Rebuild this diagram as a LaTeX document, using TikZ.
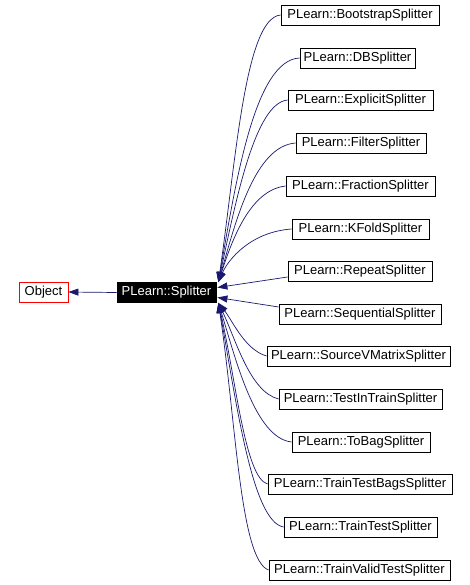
\documentclass[tikz,border=0pt]{standalone}
\usepackage{fontspec}
\setmainfont{Liberation Sans}
\usetikzlibrary{arrows.meta,calc}
\definecolor{edgeblue}{HTML}{191970}
\begin{document}
\begin{tikzpicture}[x=1pt,y=-1pt,
  box/.style={draw=black,fill=white,line width=0.8pt,inner sep=0pt,minimum height=20pt,font=\fontsize{13}{15}\selectfont,text=black},
  edge/.style={draw=edgeblue,line width=0.7pt,-{Triangle[length=10pt,width=7pt]}}]
\useasboundingbox[fill=white] (0,0) rectangle (470,585);
\node[box,draw=red,minimum width=49pt] (obj) at (43.5,292) {Object};
\node[box,fill=black,text=white,minimum width=99pt] (sp) at (166.5,292.5) {PLearn::Splitter};
\node[box,minimum width=158pt] (c1) at (360,15) {PLearn::BootstrapSplitter};
\node[box,minimum width=115pt] (c2) at (357.5,58) {PLearn::DBSplitter};
\node[box,minimum width=145pt] (c3) at (360.5,100) {PLearn::ExplicitSplitter};
\node[box,minimum width=130pt] (c4) at (361,143) {PLearn::FilterSplitter};
\node[box,minimum width=149pt] (c5) at (360.5,186) {PLearn::FractionSplitter};
\node[box,minimum width=137pt] (c6) at (360.5,229) {PLearn::KFoldSplitter};
\node[box,minimum width=144pt] (c7) at (360,271) {PLearn::RepeatSplitter};
\node[box,minimum width=162pt] (c8) at (360,314) {PLearn::SequentialSplitter};
\node[box,minimum width=183pt] (c9) at (358.5,356) {PLearn::SourceVMatrixSplitter};
\node[box,minimum width=163pt] (c10) at (360.5,399) {PLearn::TestInTrainSplitter};
\node[box,minimum width=138pt] (c11) at (361,442) {PLearn::ToBagSplitter};
\node[box,minimum width=184pt] (c12) at (360,484) {PLearn::TrainTestBagsSplitter};
\node[box,minimum width=153pt] (c13) at (360.5,527) {PLearn::TrainTestSplitter};
\node[box,minimum width=181pt] (c14) at (359.5,570) {PLearn::TrainValidTestSplitter};
\draw[edge] (sp.west) -- (obj.east);
\draw[edge] (c1.west) .. controls (245,18) and (236,160) .. ([xshift=2pt]sp.north east);
\draw[edge] (c2.west) .. controls (255,60) and (236,180) .. ([xshift=2pt]sp.north east);
\draw[edge] (c3.west) .. controls (255,103) and (236,200) .. ([xshift=2pt]sp.north east);
\draw[edge] (c4.west) .. controls (255,146) and (236,220) .. ([xshift=2pt]sp.north east);
\draw[edge] (c5.west) .. controls (250,190) and (232,240) .. ([xshift=2pt]sp.north east);
\draw[edge] (c6.west) .. controls (250,232) and (228,260) .. ([xshift=2pt]sp.north east);
\draw[edge] ([yshift=-6pt]c7.west) -- ([xshift=1pt,yshift=5pt]sp.east);
\draw[edge] ([yshift=7pt]c8.west) -- ([xshift=1pt,yshift=-5pt]sp.east);
\draw[edge] (c9.west) .. controls (245,350) and (232,320) .. ([xshift=2pt]sp.south east);
\draw[edge] (c10.west) .. controls (250,392) and (236,340) .. ([xshift=2pt]sp.south east);
\draw[edge] (c11.west) .. controls (255,438) and (236,360) .. ([xshift=2pt]sp.south east);
\draw[edge] (c12.west) .. controls (245,478) and (236,380) .. ([xshift=2pt]sp.south east);
\draw[edge] (c13.west) .. controls (252,522) and (236,400) .. ([xshift=2pt]sp.south east);
\draw[edge] (c14.west) .. controls (240,560) and (236,420) .. ([xshift=2pt]sp.south east);
\end{tikzpicture}
\end{document}
